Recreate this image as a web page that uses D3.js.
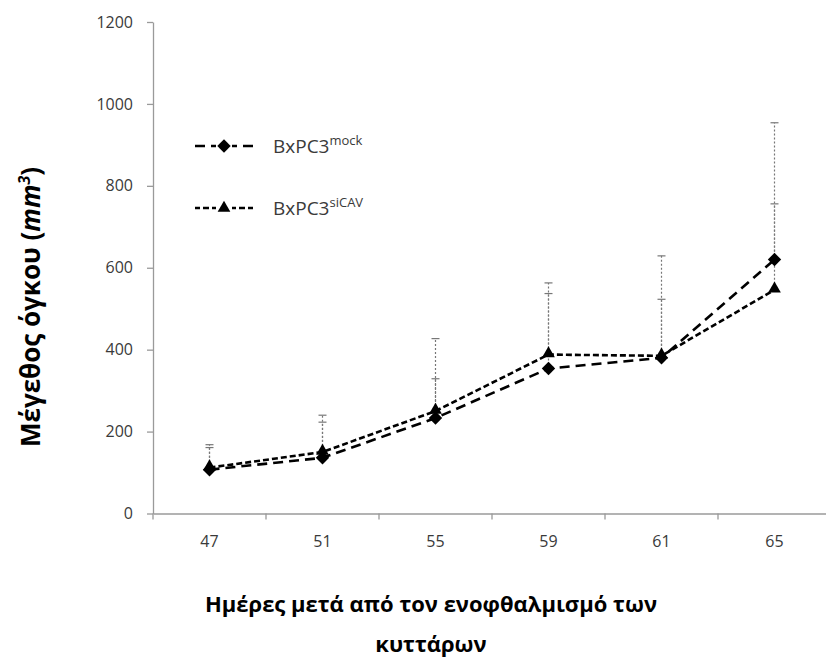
<!DOCTYPE html>
<html>
<head>
<meta charset="utf-8">
<script src="https://cdn.jsdelivr.net/npm/d3@7"></script>
<style>
  html, body { margin: 0; padding: 0; background: #fff; }
  svg { display: block; }
</style>
</head>
<body>
<svg id="chart" width="826" height="657"></svg>
<script>
// ---- data ----
const categories = ["47", "51", "55", "59", "61", "65"];
const mockValues = [107, 136, 233, 354, 380, 620];
const siCAVValues = [112, 150, 250, 388, 385, 546];
const mockErrors = [61, 104, 194, 183, 249, 334];
const siCAVErrors = [49, 73, 79, 175, 138, 210];
const yTicks = [0, 200, 400, 600, 800, 1000, 1200];
const seriesNames = ["BxPC3", "BxPC3"];
const seriesSups = ["mock", "siCAV"];

const svg = d3.select("#chart");
const font = "'Open Sans', 'Noto Sans', sans-serif";

const x = d3.scaleBand().domain(categories).range([153, 831]).padding(0);
const y = d3.scaleLinear().domain([0, 1200]).range([513.5, 22]);
const cx = c => x(c) + x.bandwidth() / 2;

// ---- axes ----
const yAxis = svg.append("g")
  .attr("transform", "translate(153,0)")
  .call(d3.axisLeft(y).tickValues(yTicks).tickFormat(d3.format("d")).tickSize(6).tickSizeOuter(0).tickPadding(14));
yAxis.select(".domain").attr("stroke", "#9a9a9a").attr("stroke-width", 1.3);
yAxis.selectAll(".tick line").attr("stroke", "#9a9a9a").attr("stroke-width", 1.3);
yAxis.selectAll(".tick text").attr("font-family", font).attr("font-size", 16).attr("fill", "#3a3a3a");

const xAxis = svg.append("g")
  .attr("transform", "translate(0,513.5)")
  .call(d3.axisBottom(x).tickSize(0).tickSizeOuter(0).tickPadding(22));
xAxis.select(".domain").attr("stroke", "#9a9a9a").attr("stroke-width", 1.3);
xAxis.selectAll(".tick text").attr("font-family", font).attr("font-size", 16).attr("fill", "#3a3a3a");
// boundary tick marks
xAxis.selectAll("line.bound")
  .data(categories)
  .enter().append("line")
  .attr("class", "bound")
  .attr("x1", c => x(c)).attr("x2", c => x(c))
  .attr("y1", 0).attr("y2", 6)
  .attr("stroke", "#9a9a9a").attr("stroke-width", 1.3);

// ---- error bars ----
function errorBars(vals, errs, offset) {
  const g = svg.append("g");
  categories.forEach((c, i) => {
    const top = y(vals[i] + errs[i]);
    g.append("line")
      .attr("x1", cx(c)).attr("x2", cx(c))
      .attr("y1", y(vals[i])).attr("y2", top)
      .attr("stroke", "#777").attr("stroke-width", 1.2)
      .attr("stroke-dasharray", "2,2").attr("stroke-dashoffset", offset);
    g.append("line")
      .attr("x1", cx(c) - 4).attr("x2", cx(c) + 4)
      .attr("y1", top).attr("y2", top)
      .attr("stroke", "#777").attr("stroke-width", 1.2);
  });
}
errorBars(mockValues, mockErrors, 0);
errorBars(siCAVValues, siCAVErrors, 2);

// ---- lines ----
const lineGen = d3.line().x((d, i) => cx(categories[i])).y(d => y(d));
svg.append("path").datum(siCAVValues)
  .attr("d", lineGen).attr("fill", "none").attr("stroke", "#000")
  .attr("stroke-width", 2.6).attr("stroke-dasharray", "6,3");
svg.append("path").datum(mockValues)
  .attr("d", lineGen).attr("fill", "none").attr("stroke", "#000")
  .attr("stroke-width", 2.6).attr("stroke-dasharray", "10,6");

const tri = d3.symbol().type(d3.symbolTriangle).size(70);
const dia = d3.symbol().type(d3.symbolSquare).size(90);

svg.append("g").selectAll("path")
  .data(siCAVValues).enter().append("path")
  .attr("d", tri)
  .attr("transform", (d, i) => `translate(${cx(categories[i])},${y(d) - 1})`)
  .attr("fill", "#000");
svg.append("g").selectAll("path")
  .data(mockValues).enter().append("path")
  .attr("d", dia)
  .attr("transform", (d, i) => `translate(${cx(categories[i])},${y(d)}) rotate(45)`)
  .attr("fill", "#000");

// ---- legend ----
const legendRows = [
  { yy: 146, dash: "10,6", sym: dia, rot: 45 },
  { yy: 208, dash: "6,3", sym: tri, rot: 0 }
];
legendRows.forEach((r, i) => {
  const g = svg.append("g");
  g.append("line")
    .attr("x1", 195).attr("x2", 253).attr("y1", r.yy).attr("y2", r.yy)
    .attr("stroke", "#000").attr("stroke-width", 2.6)
    .attr("stroke-dasharray", r.dash)
    .attr("stroke-dashoffset", i === 0 ? 0 : 1);
  g.append("rect").attr("x", 216).attr("y", r.yy - 7).attr("width", 16).attr("height", 14).attr("fill", "#fff");
  g.append("path").attr("d", r.sym)
    .attr("transform", `translate(224,${r.yy}) rotate(${r.rot})`).attr("fill", "#000");
  const t = g.append("text")
    .attr("x", 273).attr("y", r.yy + 7)
    .attr("font-family", font).attr("font-size", 19).attr("fill", "#3a3a3a");
  t.append("tspan").text(seriesNames[i]);
  t.append("tspan").attr("font-size", 13).attr("dy", -8).text(seriesSups[i]);
});

// ---- axis titles ----
const yt = svg.append("text")
  .attr("transform", "translate(40,307) rotate(-90)")
  .attr("text-anchor", "middle")
  .attr("font-family", font).attr("font-size", 26).attr("font-weight", "bold").attr("fill", "#000");
yt.append("tspan").text("Μέγεθος όγκου (");
yt.append("tspan").attr("font-style", "italic").text("mm");
yt.append("tspan").attr("font-style", "italic").attr("font-size", 16).attr("dy", -10).text("3");
yt.append("tspan").attr("dy", 10).text(")");

svg.append("text")
  .attr("x", 431).attr("y", 612)
  .attr("text-anchor", "middle")
  .attr("font-family", font).attr("font-size", 22).attr("font-weight", "bold").attr("fill", "#000")
  .text("Ημέρες μετά από τον ενοφθαλμισμό των");
svg.append("text")
  .attr("x", 431).attr("y", 652)
  .attr("text-anchor", "middle")
  .attr("font-family", font).attr("font-size", 22).attr("font-weight", "bold").attr("fill", "#000")
  .text("κυττάρων");
</script>
</body>
</html>
